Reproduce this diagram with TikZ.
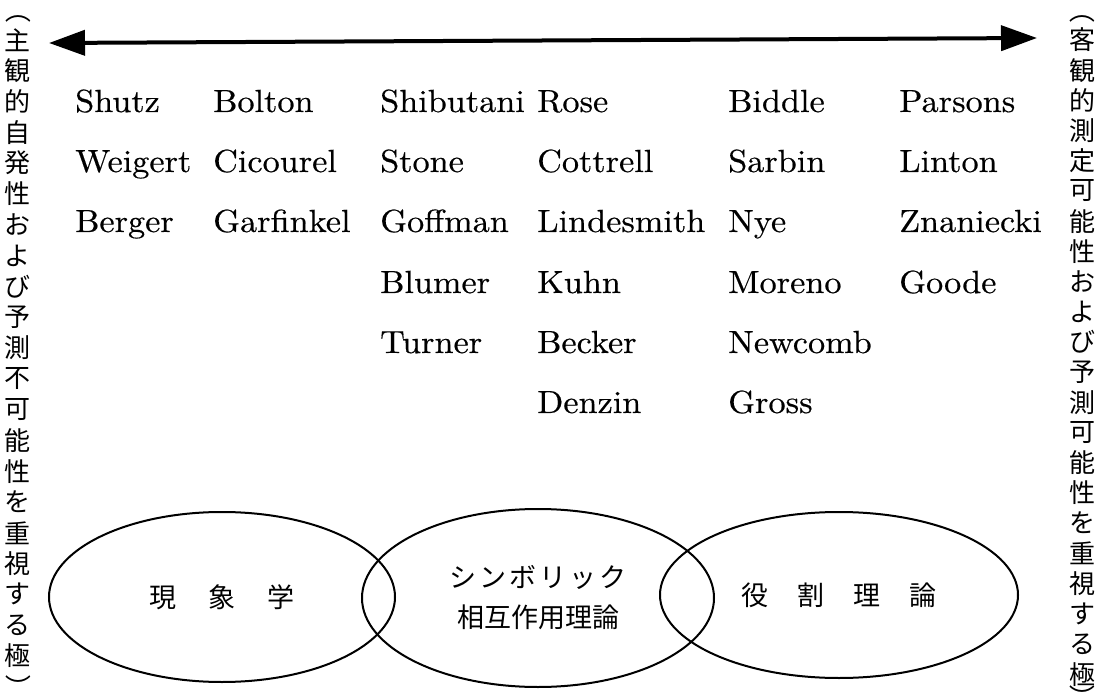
\documentclass[tikz,border=0pt]{standalone}
\usepackage{fontspec}
\newfontfamily\jpfont{Noto Sans CJK JP}
\newfontfamily\namefont{lmroman10-regular}[Extension=.otf, FakeBold=0.4, FakeStretch=1.07]
\usetikzlibrary{arrows.meta,shapes.geometric}
\tikzset{
  namelabel/.style={anchor=base west, inner sep=0pt, font=\namefont\fontsize{32}{38}\selectfont},
  vchar/.style={inner sep=0pt, font=\jpfont\fontsize{26}{30}\selectfont},
  vparen/.style={vchar, rotate=-90},
  theory/.style={draw, ellipse, line width=2pt, inner sep=0pt, font=\jpfont\fontsize{27}{40}\selectfont, align=center},
  axis/.style={line width=4pt, {Triangle[length=36pt,width=25pt]}-{Triangle[length=36pt,width=25pt]}}
}
\begin{document}
\begin{tikzpicture}[x=1pt,y=-1pt]
\useasboundingbox[fill=white] (0,0) rectangle (1103,692);
% axis
\coordinate (axl) at (49,43);
\coordinate (axr) at (1037,38);
\draw[axis] (axl) -- (axr);
% vertical pole labels
\node[vparen] (lp0) at (18,11) {（};
\foreach \c [count=\i from 1] in {主,観,的,自,発,性,お,よ,び,予,測,不,可,能,性,を,重,視,す,る,極}
  \node[vchar] (lp\i) at (18,9.2+\i*30.8) {\c};
\node[vparen] (lp22) at (18,687) {）};
\node[vparen] (rp0) at (1082,11) {（};
\foreach \c [count=\i from 1] in {客,観,的,測,定,可,能,性,お,よ,び,予,測,可,能,性,を,重,視,す,る,極}
  \node[vchar] (rp\i) at (1082,9.8+\i*30.2) {\c};
\node[vparen] (rp23) at (1082,697) {）};
% names
\node[namelabel] (n11) at (75,112) {Shutz};
\node[namelabel] (n12) at (75,172) {Weigert};
\node[namelabel] (n13) at (75,232) {Berger};
\node[namelabel] (n21) at (213,112) {Bolton};
\node[namelabel] (n22) at (213,172) {Cicourel};
\node[namelabel] (n23) at (213,232) {Garfinkel};
\node[namelabel] (n31) at (380,112) {Shibutani};
\node[namelabel] (n32) at (380,172) {Stone};
\node[namelabel] (n33) at (380,232) {Goffman};
\node[namelabel] (n34) at (380,293) {Blumer};
\node[namelabel] (n35) at (380,353) {Turner};
\node[namelabel] (n41) at (537,112) {Rose};
\node[namelabel] (n42) at (537,172) {Cottrell};
\node[namelabel] (n43) at (537,232) {Lindesmith};
\node[namelabel] (n44) at (537,293) {Kuhn};
\node[namelabel] (n45) at (537,353) {Becker};
\node[namelabel] (n46) at (537,413) {Denzin};
\node[namelabel] (n51) at (728,112) {Biddle};
\node[namelabel] (n52) at (728,172) {Sarbin};
\node[namelabel] (n53) at (728,232) {Nye};
\node[namelabel] (n54) at (728,293) {Moreno};
\node[namelabel] (n55) at (728,353) {Newcomb};
\node[namelabel] (n56) at (728,413) {Gross};
\node[namelabel] (n61) at (899,112) {Parsons};
\node[namelabel] (n62) at (899,172) {Linton};
\node[namelabel] (n63) at (899,232) {Znaniecki};
\node[namelabel] (n64) at (899,293) {Goode};
% theory ellipses
\node[theory, minimum width=346pt, minimum height=170pt] (phen) at (222,597)
  {現\hspace{32pt}象\hspace{32pt}学};
\node[theory, minimum width=352pt, minimum height=178pt] (symb) at (538,598)
  {シ\hspace{3pt}ン\hspace{3pt}ボ\hspace{3pt}リ\hspace{3pt}ッ\hspace{3pt}ク\\相互作用理論};
\node[theory, minimum width=358pt, minimum height=166pt] (role) at (839,595)
  {役\hspace{29pt}割\hspace{29pt}理\hspace{29pt}論};
\end{tikzpicture}
\end{document}
